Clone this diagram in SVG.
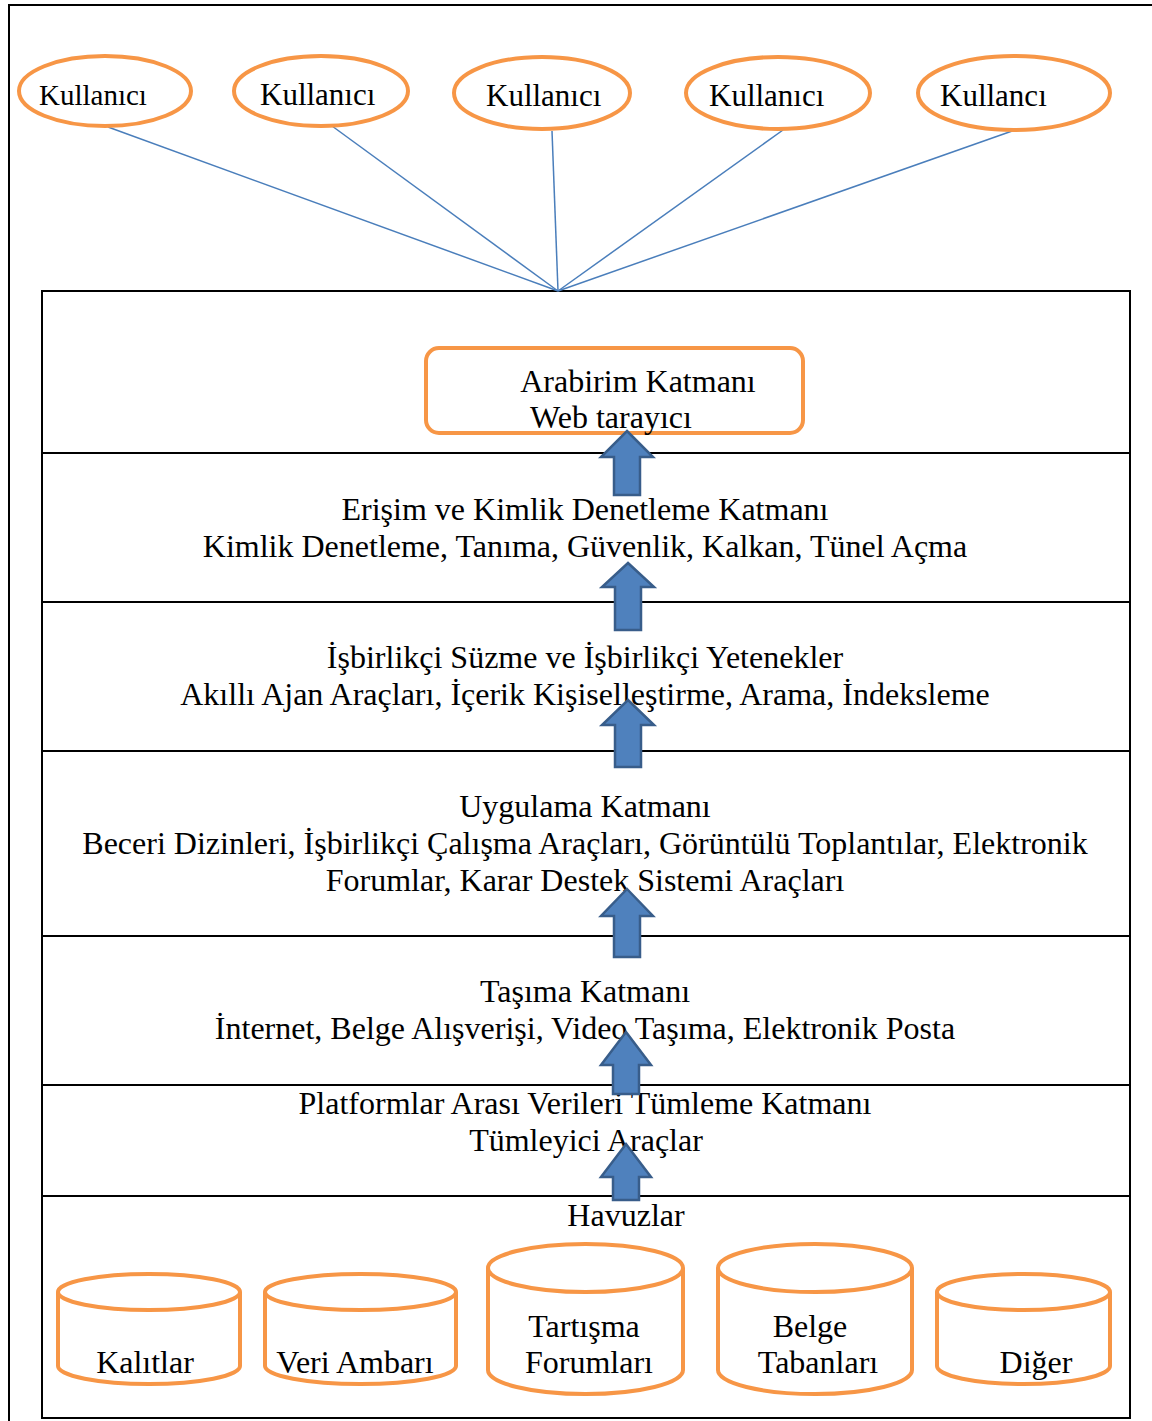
<svg xmlns="http://www.w3.org/2000/svg" width="1152" height="1421" viewBox="0 0 1152 1421">
<style>
.t{font-family:"Liberation Serif","Times New Roman",serif;font-size:32px;fill:#000}
.u{font-family:"Liberation Serif","Times New Roman",serif;font-size:31px;fill:#000}
.c{text-anchor:middle}
.o{fill:#fff;stroke:#f79646;stroke-width:4}
.f{fill:none;stroke:#000;stroke-width:2}
.ln{stroke:#4a7ebb;stroke-width:1.5;fill:none}
.ar{fill:#4f81bd;stroke:#385d8a;stroke-width:2.5;stroke-linejoin:miter}
</style>
<rect width="1152" height="1421" fill="#fff"/>
<path class="f" d="M9,1421 V5 H1152"/>
<g id="layers">
<rect class="f" x="42" y="291" width="1088" height="1127"/>
<path class="f" d="M42,453 H1130 M42,602 H1130 M42,751 H1130 M42,936 H1130 M42,1085 H1130 M42,1196 H1130"/>
</g>
<g id="connectors">
<line class="ln" x1="108" y1="127" x2="558" y2="291"/>
<line class="ln" x1="332" y1="126" x2="558" y2="291"/>
<line class="ln" x1="552" y1="131" x2="558" y2="291"/>
<line class="ln" x1="783" y1="130" x2="558" y2="291"/>
<line class="ln" x1="1015" y1="130" x2="558" y2="291"/>
</g>
<g id="user1"><ellipse class="o" cx="105" cy="91" rx="86" ry="35"/><text class="u" x="39" y="105" style="font-size:29px">Kullanıcı</text></g>
<g id="user2"><ellipse class="o" cx="321" cy="91" rx="87" ry="35"/><text class="u" x="260" y="105">Kullanıcı</text></g>
<g id="user3"><ellipse class="o" cx="542" cy="93" rx="88" ry="36"/><text class="u" x="486" y="106">Kullanıcı</text></g>
<g id="user4"><ellipse class="o" cx="778" cy="93" rx="92" ry="36"/><text class="u" x="709" y="106">Kullanıcı</text></g>
<g id="user5"><ellipse class="o" cx="1014" cy="93" rx="96" ry="37"/><text class="u" x="940" y="106">Kullancı</text></g>
<g id="arabirim">
<rect class="o" x="426" y="348" width="377" height="85" rx="13"/>
<text class="t c" x="638" y="392">Arabirim Katmanı</text>
<text class="t c" x="611" y="428">Web tarayıcı</text>
</g>
<g id="erisim">
<text class="t c" x="585" y="520">Erişim ve Kimlik Denetleme Katmanı</text>
<text class="t c" x="585" y="557">Kimlik Denetleme, Tanıma, Güvenlik, Kalkan, Tünel Açma</text>
</g>
<g id="isbirlikci">
<text class="t c" x="585" y="668">İşbirlikçi Süzme ve İşbirlikçi Yetenekler</text>
<text class="t c" x="585" y="705">Akıllı Ajan Araçları, İçerik Kişiselleştirme, Arama, İndeksleme</text>
</g>
<g id="uygulama">
<text class="t c" x="585" y="817">Uygulama Katmanı</text>
<text class="t c" x="585" y="854">Beceri Dizinleri, İşbirlikçi Çalışma Araçları, Görüntülü Toplantılar, Elektronik</text>
<text class="t c" x="585" y="891">Forumlar, Karar Destek Sistemi Araçları</text>
</g>
<g id="tasima">
<text class="t c" x="585" y="1002">Taşıma Katmanı</text>
<text class="t c" x="585" y="1039">İnternet, Belge Alışverişi, Video Taşıma, Elektronik Posta</text>
</g>
<g id="platform">
<text class="t c" x="585" y="1114">Platformlar Arası Verileri Tümleme Katmanı</text>
<text class="t c" x="586" y="1151">Tümleyici Araçlar</text>
</g>
<g id="havuzlar">
<text class="t c" x="626" y="1226">Havuzlar</text>
</g>
<g id="kalitlar">
<path class="o" d="M58,1292 V1366 A91,18 0 0 0 240,1366 V1292"/>
<ellipse class="o" cx="149" cy="1292" rx="91" ry="18"/>
<text class="t c" x="145" y="1373">Kalıtlar</text>
</g>
<g id="veriambari">
<path class="o" d="M265,1292 V1366 A95.5,18 0 0 0 456,1366 V1292"/>
<ellipse class="o" cx="360.5" cy="1292" rx="95.5" ry="18"/>
<text class="t c" x="355" y="1373">Veri Ambarı</text>
</g>
<g id="tartisma">
<path class="o" d="M488,1268 V1370 A97.5,24 0 0 0 683,1370 V1268"/>
<ellipse class="o" cx="585.5" cy="1268" rx="97.5" ry="24"/>
<text class="t c" x="584" y="1337">Tartışma</text>
<text class="t c" x="589" y="1373">Forumları</text>
</g>
<g id="belge">
<path class="o" d="M718,1268 V1370 A97,24 0 0 0 912,1370 V1268"/>
<ellipse class="o" cx="815" cy="1268" rx="97" ry="24"/>
<text class="t c" x="810" y="1337">Belge</text>
<text class="t c" x="818" y="1373">Tabanları</text>
</g>
<g id="diger">
<path class="o" d="M937,1292 V1366 A86.5,18 0 0 0 1110,1366 V1292"/>
<ellipse class="o" cx="1023.5" cy="1292" rx="86.5" ry="18"/>
<text class="t c" x="1036" y="1373">Diğer</text>
</g>
<g id="arrows">
<path class="ar" d="M627,431 L653,457 L640,457 L640,495 L614,495 L614,457 L601,457 Z"/>
<path class="ar" d="M628,563 L654,587 L641,587 L641,630 L615,630 L615,587 L602,587 Z"/>
<path class="ar" d="M628,700 L654,725 L641,725 L641,767 L615,767 L615,725 L602,725 Z"/>
<path class="ar" d="M627,889 L653,916 L640,916 L640,957 L614,957 L614,916 L601,916 Z"/>
<path class="ar" d="M626,1032 L651,1065 L639,1065 L639,1094 L613,1094 L613,1065 L601,1065 Z"/>
<path class="ar" d="M626,1144 L651,1177 L639,1177 L639,1200 L613,1200 L613,1177 L601,1177 Z"/>
</g>
</svg>
